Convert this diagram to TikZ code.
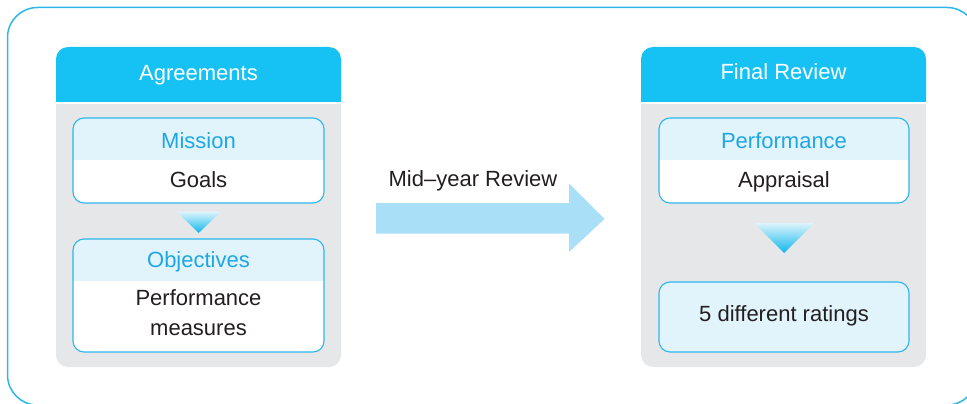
\documentclass[tikz,border=0pt]{standalone}
\usepackage{fontspec}
\setmainfont{Liberation Sans}
\definecolor{hdrcyan}{HTML}{16C1F3}
\definecolor{edgeblue}{HTML}{2DB6EC}
\definecolor{paleblue}{HTML}{E1F3FB}
\definecolor{panelgray}{HTML}{E6E7E8}
\definecolor{titleblue}{HTML}{1EA7E3}
\definecolor{inkdark}{HTML}{231F20}
\definecolor{arrowblue}{HTML}{AADFF8}
\definecolor{tritop}{HTML}{DDF4FC}
\definecolor{tribot}{HTML}{0FB7EC}
\tikzset{
  x=1pt, y=-1pt,
  txt/.style={anchor=base, inner sep=0pt, font=\fontsize{22}{26}\selectfont},
  hdrtext/.style={txt, text=white},
  bluetext/.style={txt, text=titleblue},
  darktext/.style={txt, text=inkdark},
  boxedge/.style={draw=edgeblue, line width=1.1pt, rounded corners=11pt},
  tri/.style={top color=tritop, bottom color=tribot, draw=none},
}
\begin{document}
\begin{tikzpicture}
\useasboundingbox (0,0) rectangle (967,404);
\begin{scope}
\clip (0,0) rectangle (967,404);
% outer frame
\draw[edgeblue, line width=1.5pt, rounded corners=30pt] (7.5,7.5) rectangle (977,405);
\end{scope}

% ---------- left panel: Agreements ----------
\begin{scope}
\clip (50,40) rectangle (350,101);
\fill[hdrcyan, rounded corners=12pt] (56,47) rectangle (341,140);
\end{scope}
\begin{scope}
\clip (50,104) rectangle (350,372);
\fill[panelgray, rounded corners=12pt] (56,70) rectangle (341,367);
\end{scope}
\node[hdrtext] (hdrA) at (198.5,80.5) {Agreements};

% Mission / Goals box
\fill[white, rounded corners=11pt] (73,118) rectangle (324,203);
\begin{scope}
\clip[rounded corners=11pt] (73,118) rectangle (324,203);
\fill[paleblue] (73,118) rectangle (324,160);
\end{scope}
\draw[boxedge] (73,118) rectangle (324,203);
\node[bluetext] (mission) at (198.5,148.3) {Mission};
\node[darktext] (goals) at (198.5,187.7) {Goals};

% small gradient triangle
\shade[tri] (176.7,211.7) -- (220.7,211.7) -- (198.7,233) -- cycle;

% Objectives / measures box
\fill[white, rounded corners=11pt] (73,239) rectangle (324,352);
\begin{scope}
\clip[rounded corners=11pt] (73,239) rectangle (324,352);
\fill[paleblue] (73,239) rectangle (324,281);
\end{scope}
\draw[boxedge] (73,239) rectangle (324,352);
\node[bluetext] (objectives) at (198.5,267.7) {Objectives};
\node[darktext] (measuresA) at (198.5,305.7) {Performance};
\node[darktext] (measuresB) at (198.5,335.7) {measures};

% ---------- middle arrow ----------
\fill[arrowblue] (376,203) -- (569,203) -- (569,183.5) -- (604.5,219) -- (569,252) -- (569,233.5) -- (376,233.5) -- cycle;
\node[darktext] (mid) at (473,186.7) {Mid--year Review};

% ---------- right panel: Final Review ----------
\begin{scope}
\clip (635,40) rectangle (935,101);
\fill[hdrcyan, rounded corners=12pt] (641,47) rectangle (926,140);
\end{scope}
\begin{scope}
\clip (635,104) rectangle (935,372);
\fill[panelgray, rounded corners=12pt] (641,70) rectangle (926,367);
\end{scope}
\node[hdrtext] (hdrF) at (783.5,80) {Final Review};

% Performance / Appraisal box
\fill[white, rounded corners=11pt] (659,118) rectangle (909,203);
\begin{scope}
\clip[rounded corners=11pt] (659,118) rectangle (909,203);
\fill[paleblue] (659,118) rectangle (909,160);
\end{scope}
\draw[boxedge] (659,118) rectangle (909,203);
\node[bluetext] (perf) at (784,148.3) {Performance};
\node[darktext] (appraisal) at (784,187.7) {Appraisal};

% larger gradient triangle
\shade[tri] (754,223) -- (814,223) -- (784,253) -- cycle;

% ratings box
\fill[paleblue, rounded corners=11pt] (659,282) rectangle (909,352);
\draw[boxedge] (659,282) rectangle (909,352);
\node[darktext] (ratings) at (784,321.7) {5 different ratings};
\end{tikzpicture}
\end{document}
